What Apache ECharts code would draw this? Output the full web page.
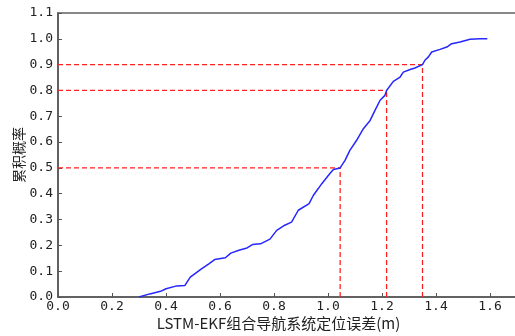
<!DOCTYPE html>
<html>
<head>
<meta charset="utf-8">
<script src="https://cdn.jsdelivr.net/npm/echarts@6/dist/echarts.min.js"></script>
<style>
  html, body { margin: 0; padding: 0; background: #fff; }
  #chart { width: 515px; height: 336px; }
</style>
</head>
<body>
<div id="chart"></div>
<script>
// CDF of positioning error
let errX = [0.30, 0.34, 0.38, 0.40, 0.44, 0.47, 0.49, 0.53, 0.56, 0.58, 0.62, 0.64, 0.67, 0.70, 0.72,
  0.75, 0.785, 0.81, 0.84, 0.865, 0.89, 0.93, 0.946, 0.964, 0.977, 1.007, 1.02, 1.045, 1.063, 1.081,
  1.106, 1.131, 1.156, 1.174, 1.193, 1.211, 1.217, 1.242, 1.267, 1.279, 1.304, 1.322, 1.35, 1.359,
  1.372, 1.384, 1.415, 1.44, 1.458, 1.489, 1.526, 1.563, 1.59];
let cdfY = [0, 0.012, 0.022, 0.032, 0.043, 0.045, 0.077, 0.108, 0.129, 0.145, 0.152, 0.17, 0.181, 0.19, 0.203,
  0.206, 0.224, 0.258, 0.278, 0.29, 0.336, 0.362, 0.394, 0.42, 0.439, 0.478, 0.494, 0.5, 0.529, 0.568,
  0.607, 0.652, 0.684, 0.723, 0.762, 0.781, 0.8, 0.835, 0.852, 0.871, 0.881, 0.887, 0.9, 0.917,
  0.93, 0.949, 0.959, 0.968, 0.981, 0.988, 0.998, 1.0, 1.0];

// red guide lines
let guideP = [0.5, 0.8, 0.9];
let guideErr = [1.045, 1.217, 1.35];

let xName = "LSTM-EKF组合导航系统定位误差(m)";
let yName = "累积概率";

let labelFont = {
  fontFamily: "DejaVu Sans Mono",
  fontSize: 13,
  color: "#222"
};

let curve = errX.map((x, i) => [x, cdfY[i]]);

let series = [
  {
    type: "line",
    data: curve,
    symbol: "none",
    z: 3,
    lineStyle: { color: "#2626ff", width: 1.5 }
  }
];

guideP.forEach((p, i) => {
  let e = guideErr[i];
  series.push({
    type: "line",
    data: [[0, p], [e, p]],
    symbol: "none",
    z: 2,
    lineStyle: { color: "#ff2020", width: 1.3, type: [5, 3] }
  });
  series.push({
    type: "line",
    data: [[e, 0], [e, p]],
    symbol: "none",
    z: 2,
    lineStyle: { color: "#ff2020", width: 1.3, type: [5, 3] }
  });
});

let chart = echarts.init(document.getElementById("chart"));
chart.setOption({
  backgroundColor: "#fff",
  animation: false,
  grid: {
    left: 58,
    top: 13,
    width: 459,
    height: 284,
    outerBoundsMode: "none",
    show: true,
    borderColor: "#888",
    borderWidth: 2,
    backgroundColor: "transparent"
  },
  xAxis: {
    type: "value",
    min: 0,
    max: 1.7,
    interval: 0.2,
    name: xName,
    nameLocation: "middle",
    nameGap: 19,
    nameMoveOverlap: false,
    nameTextStyle: {
      fontFamily: "Noto Sans CJK SC",
      fontSize: 15,
      color: "#222",
      padding: [0, 18, 0, 0]
    },
    axisLine: { lineStyle: { color: "#555", width: 1.5 } },
    axisTick: { inside: true, length: 4, lineStyle: { color: "#555" } },
    axisLabel: Object.assign({
      margin: 3,
      showMaxLabel: false,
      formatter: v => v.toFixed(1)
    }, labelFont),
    splitLine: { show: false }
  },
  yAxis: {
    type: "value",
    min: 0,
    max: 1.1,
    interval: 0.1,
    name: yName,
    nameLocation: "middle",
    nameGap: 32,
    nameMoveOverlap: false,
    nameTextStyle: {
      fontFamily: "Noto Sans CJK SC",
      fontSize: 14,
      color: "#222"
    },
    axisLine: { lineStyle: { color: "#555", width: 1.5 } },
    axisTick: { inside: true, length: 4, lineStyle: { color: "#555" } },
    axisLabel: Object.assign({
      margin: 5,
      formatter: v => v.toFixed(1)
    }, labelFont),
    splitLine: { show: false }
  },
  series: series
});
</script>
</body>
</html>
